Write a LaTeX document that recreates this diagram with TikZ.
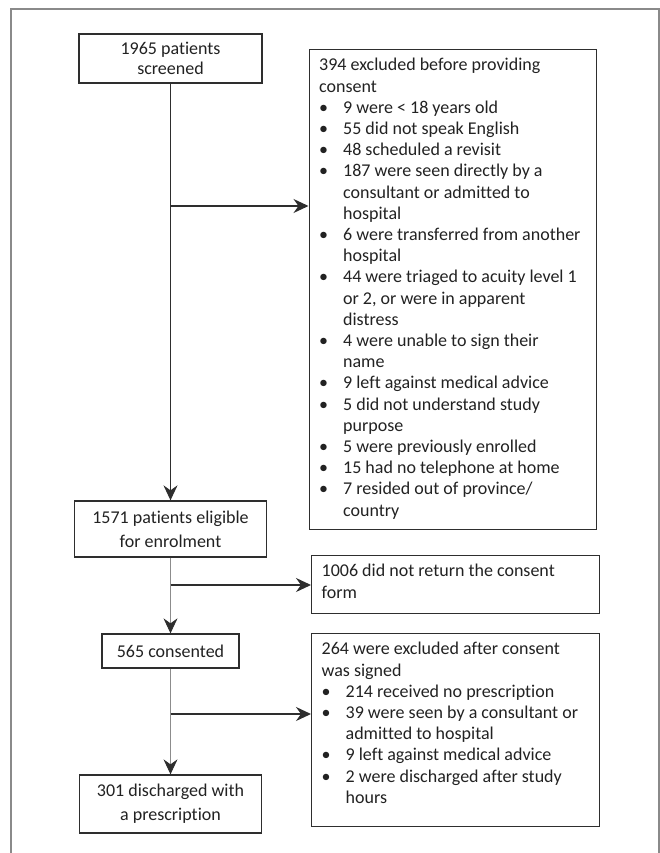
\documentclass[tikz,border=0pt]{standalone}
\usepackage{fontspec}
\setmainfont[Ligatures={NoCommon}]{Carlito}
\usetikzlibrary{arrows.meta}
\definecolor{txt}{HTML}{222222}
\definecolor{boxc}{HTML}{2E2E2E}
\definecolor{grayl}{HTML}{8C8C8C}
\definecolor{framec}{HTML}{8A8A8A}
\newcommand\fsz{\fontsize{18}{21.2}\selectfont}
\newcommand\itm[1]{\makebox[24pt][l]{•}#1}
\newcommand\cnt[1]{\hspace*{24pt}#1}
\newcommand\lp[3]{\parbox[c][#1][t]{#2}{\raggedright\leftskip=10pt\vspace*{8.7pt}#3}}
\begin{document}
\begin{tikzpicture}[x=1pt,y=-1pt,
  every node/.style={font=\fsz, text=txt},
  cbox/.style={draw=boxc, line width=1.3pt, inner sep=0pt, align=center},
  lbox/.style={draw=boxc, line width=1.3pt, inner sep=0pt, anchor=north west},
  trunk/.style={draw=boxc, line width=1.4pt},
  thinl/.style={draw=grayl, line width=1pt},
  arr/.style={-{Stealth[length=15pt,width=14pt,inset=5pt,color=boxc]}},
  harr/.style={draw=boxc, line width=1.5pt, arr}]
\fill[white] (0,0) rectangle (660,853);
\useasboundingbox (0,0) rectangle (660,853);
% outer frame
\draw[draw=framec, line width=1.5pt] (11,853) -- (11,9) -- (659,9) -- (659,853);

% left column
\node[cbox, minimum width=183pt, minimum height=49pt] (screen) at (170.5,58.5) {1965 patients\\[-1.5pt]screened};
\node[cbox, minimum width=192pt, minimum height=56pt] (elig) at (170.5,529) {1571 patients eligible\\[2.5pt]for enrolment};
\node[cbox, minimum width=137pt, minimum height=34pt] (cons) at (170.5,651) {565 consented};
\node[cbox, minimum width=182pt, minimum height=58pt] (disc) at (170.5,804) {301 discharged with\\[2.5pt]a prescription};

% right column
\node[lbox] (excl) at (308.5,49) {\lp{480pt}{287.5pt}{%
394 excluded before providing\\
consent\\
\itm{9 were < 18 years old}\\
\itm{55 did not speak English}\\
\itm{48 scheduled a revisit}\\
\itm{187 were seen directly by a}\\
\cnt{consultant or admitted to}\\
\cnt{hospital}\\
\itm{6 were transferred from another}\\
\cnt{hospital}\\
\itm{44 were triaged to acuity level 1}\\
\cnt{or 2, or were in apparent}\\
\cnt{distress}\\
\itm{4 were unable to sign their}\\
\cnt{name}\\
\itm{9 left against medical advice}\\
\itm{5 did not understand study}\\
\cnt{purpose}\\
\itm{5 were previously enrolled}\\
\itm{15 had no telephone at home}\\
\itm{7 resided out of province/}\\
\cnt{country}}};
\node[lbox] (noret) at (311,555) {\lp{58pt}{288pt}{%
1006 did not return the consent\\
form}};
\node[lbox] (after) at (311,633) {\lp{193pt}{288pt}{%
264 were excluded after consent\\
was signed\\
\itm{214 received no prescription}\\
\itm{39 were seen by a consultant or}\\
\cnt{admitted to hospital}\\
\itm{9 left against medical advice}\\
\itm{2 were discharged after study}\\
\cnt{hours}}};

% connectors
\draw[trunk, arr] (screen.south) -- (elig.north);
\draw[thinl, arr] (elig.south) -- (cons.north);
\draw[thinl, arr] (cons.south) -- (disc.north);
\coordinate (j1) at (170.5,206);
\coordinate (j2) at (170.5,585);
\coordinate (j3) at (170.5,714);
\draw[harr] (j1) -- (j1 -| excl.west);
\draw[harr] (j2) -- (j2 -| noret.west);
\draw[harr] (j3) -- (j3 -| after.west);
\end{tikzpicture}
\end{document}
